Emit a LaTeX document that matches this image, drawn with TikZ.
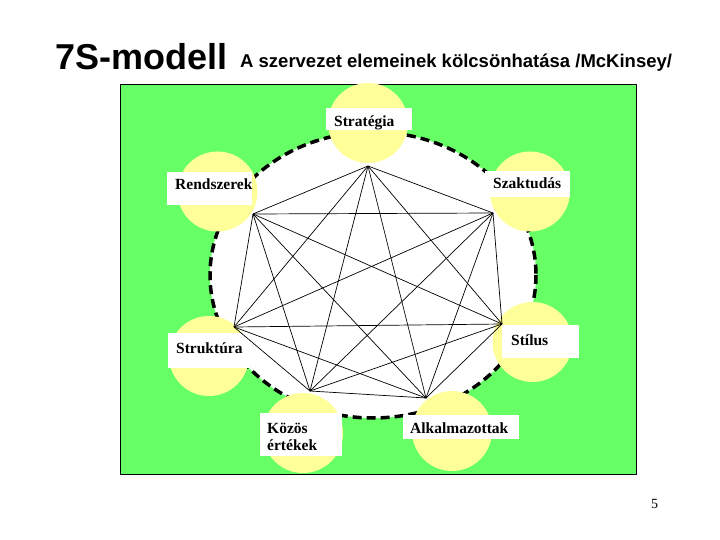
\documentclass[tikz,border=0pt]{standalone}
\usepackage{fontspec}
\setmainfont{Liberation Serif}
\newfontfamily\headfont{Liberation Sans}
\definecolor{bggreen}{RGB}{102,255,102}
\definecolor{paleyellow}{RGB}{255,255,153}
\tikzset{
  disc/.style={circle,fill=paleyellow,minimum size=80pt,inner sep=0pt},
  sname/.style={anchor=base west,inner sep=0pt,font=\fontsize{15.5}{17}\selectfont\bfseries},
}
\begin{document}
\begin{tikzpicture}[x=1pt,y=-1pt,line join=round]
 \useasboundingbox (0,0) rectangle (720,540);
 % title
 \node[anchor=base west,inner sep=0pt,font=\headfont\bfseries\fontsize{36}{40}\selectfont] (title) at (55,70) {7S-modell};
 \node[anchor=base west,inner sep=0pt,font=\headfont\bfseries\fontsize{18.5}{22}\selectfont] (subtitle) at (240,68) {A szervezet elemeinek kölcsönhatása /McKinsey/};
 % background
 \draw[fill=bggreen,line width=0.8pt] (120,84) rectangle (636,474);
 \draw[fill=white,line width=3.5pt,dash pattern=on 9pt off 5pt] (373,275) ellipse (163 and 143);
 % the seven discs
 \foreach \n/\cx/\cy in {strat/368/123,szak/530/191.5,stil/532.5/342,alk/452/431,kozos/303/433,strukt/209/356,rend/217.5/191.5}
   \node[disc] (d\n) at (\cx,\cy) {};
 % white label boxes
 \fill[white] (326,108) rectangle (412,130);
 \fill[white] (167,172) rectangle (252,205);
 \fill[white] (485,171) rectangle (570,197);
 \fill[white] (502,325) rectangle (579,358);
 \fill[white] (168,333) rectangle (250,368);
 \fill[white] (260,413) rectangle (342,456);
 \fill[white] (403,415) rectangle (519,439);
 \node[sname] (lstrat) at (334,127) {Stratégia};
 \node[sname] (lrend) at (175,190) {Rendszerek};
 \node[sname] (lszak) at (493,189) {Szaktudás};
 \node[sname] (lstil) at (511,345) {Stílus};
 \node[sname] (lstrukt) at (176,353) {Struktúra};
 \node[sname] (lkozos) at (267,433) {Közös};
 \node[sname] (lertek) at (267,450) {értékek};
 \node[sname] (lalk) at (410,433) {Alkalmazottak};
 % corners of the heptagon, every pair joined
 \coordinate (v1) at (368,166);
 \coordinate (v2) at (493,213);
 \coordinate (v3) at (502,324);
 \coordinate (v4) at (426,398);
 \coordinate (v5) at (310,391);
 \coordinate (v6) at (234,327);
 \coordinate (v7) at (253,214);
 \foreach \i in {1,...,6} {
   \pgfmathtruncatemacro\k{\i+1}
   \foreach \j in {\k,...,7} \draw[line width=0.7pt] (v\i) -- (v\j);
 }
 \node[anchor=base west,inner sep=0pt,font=\fontsize{14}{16}\selectfont] (pnum) at (651,508) {5};
\end{tikzpicture}
\end{document}
